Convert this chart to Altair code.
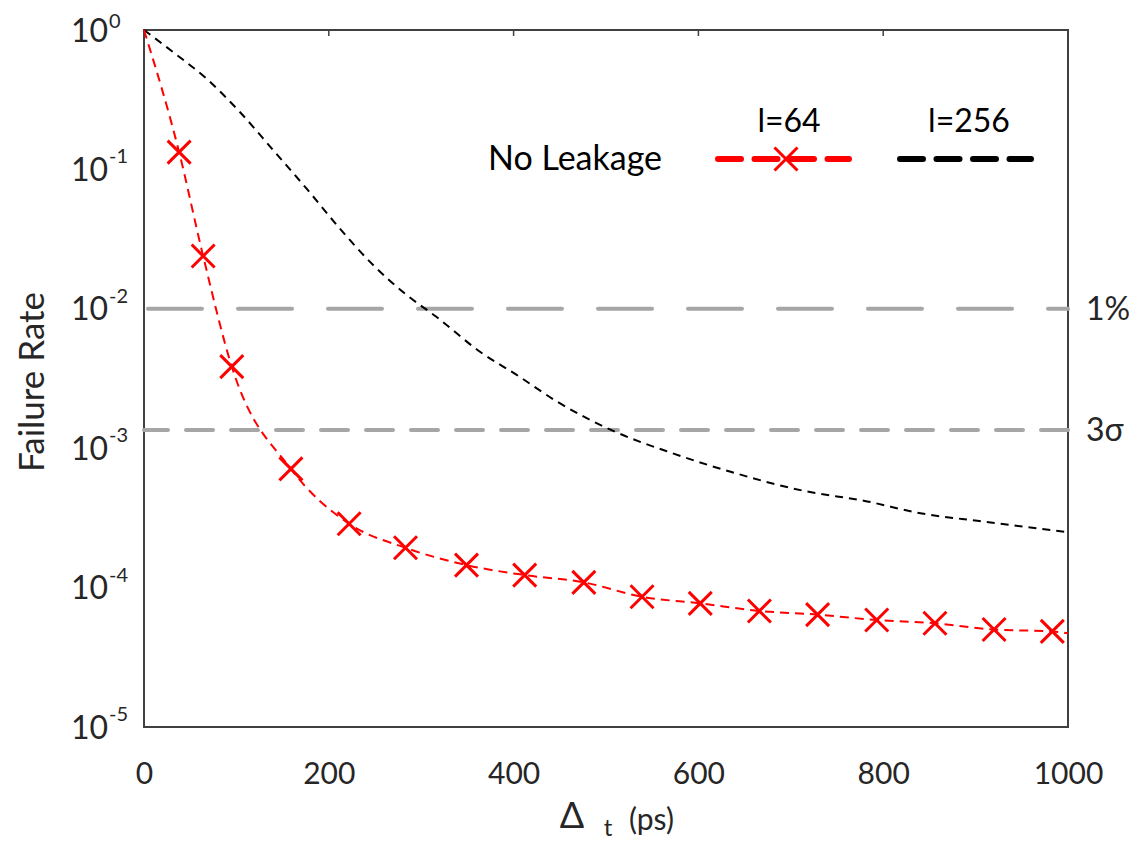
import altair as alt
import pandas as pd

# ---- data ----
t64 = [38, 64, 95, 159, 222, 283, 349, 412, 476, 539, 602, 666, 729, 793, 856, 920, 983]
fr64 = [0.133, 0.0239, 0.00385, 7.1e-4, 2.87e-4, 1.93e-4, 1.45e-4, 1.23e-4, 1.09e-4,
        8.6e-5, 7.7e-5, 6.8e-5, 6.4e-5, 5.85e-5, 5.55e-5, 5.0e-5, 4.85e-5]
line64_t = [0] + t64 + [1000]
line64_fr = [1.0] + fr64 + [4.7e-5]

t256 = [0, 32, 68, 104, 140, 176, 212, 248, 284, 316, 364, 405, 447, 509, 572, 634,
        717, 779, 842, 904, 1000]
fr256 = [1.0, 0.69, 0.445, 0.257, 0.137, 0.0727, 0.0376, 0.0206, 0.0126, 0.0088, 0.0049,
         0.0033, 0.00216, 0.00132, 9.2e-4, 6.8e-4, 4.9e-4, 4.2e-4, 3.4e-4, 3.0e-4, 2.5e-4]

ytick_vals = [1, 0.1, 0.01, 0.001, 0.0001, 0.00001]
ytick_exp = ["0", "-1", "-2", "-3", "-4", "-5"]
xticks = [0, 200, 400, 600, 800, 1000]
top_ticks = [200, 400, 600, 800]
ref_vals = [0.01, 0.00135]
ref_labels = ["1%", "3σ"]

FONT = "Lato"
TXT = "#262626"
W, H = 924, 697

df64_line = pd.DataFrame({"t": line64_t, "fr": line64_fr})
df64_pts = pd.DataFrame({"t": t64, "fr": fr64})
df256 = pd.DataFrame({"t": t256, "fr": fr256})
dfy = pd.DataFrame({"v": ytick_vals, "e": ytick_exp})
dfref = pd.DataFrame({"v": ref_vals, "lab": ref_labels})
dftop = pd.DataFrame({"t": top_ticks})
one = pd.DataFrame({"a": [0]})

xscale = alt.Scale(domain=[0, 1000], nice=False, zero=False)
yscale = alt.Scale(type="log", domain=[1e-5, 1], nice=False)
xaxis = alt.Axis(values=xticks, format="d", ticks=False, domain=False, grid=False,
                 labelFontSize=30, labelPadding=32, labelFont=FONT, labelColor=TXT,
                 title=None, labelFlush=False)
yaxis = alt.Axis(labels=False, ticks=False, domain=False, grid=False, title=None)


def X(f="t"):
    return alt.X(f"{f}:Q", scale=xscale, axis=xaxis)


def Y(f="fr"):
    return alt.Y(f"{f}:Q", scale=yscale, axis=yaxis)


ref1 = alt.Chart(dfref.iloc[[0]]).mark_rule(
    color="#a6a6a6", strokeWidth=4, strokeDash=[54, 36], strokeDashOffset=34, strokeCap="round"
).encode(y=Y("v"))
ref2 = alt.Chart(dfref.iloc[[1]]).mark_rule(
    color="#a6a6a6", strokeWidth=4, strokeDash=[27, 18], strokeCap="round"
).encode(y=Y("v"))

ref_txt = alt.Chart(dfref).mark_text(
    align="left", baseline="middle", font=FONT, fontSize=32, color=TXT, dy=1
).encode(y=Y("v"), x=alt.value(W + 18), text="lab:N")

black = alt.Chart(df256).mark_line(
    color="black", strokeWidth=2, strokeDash=[8, 6], interpolate="monotone"
).encode(x=X(), y=Y())

red = alt.Chart(df64_line).mark_line(
    color="#ff0000", strokeWidth=2, strokeDash=[9, 6], interpolate="monotone"
).encode(x=X(), y=Y())

CROSS = "M-1,-1L1,1M-1,1L1,-1"
pts = alt.Chart(df64_pts).mark_point(
    shape=CROSS, filled=False, strokeWidth=3, size=529, color="#ff0000", opacity=1
).encode(x=X(), y=Y())

top_tk = alt.Chart(dftop).mark_rule(color="#404040", strokeWidth=1.5).encode(
    x=X(), y=alt.value(0), y2=alt.value(6)
)

ylab10 = alt.Chart(dfy).mark_text(
    align="right", baseline="middle", font=FONT, fontSize=32, color=TXT, dy=1.5
).encode(y=Y("v"), x=alt.value(-36), text=alt.value("10"))
ylabexp_top = alt.Chart(dfy.iloc[[0]]).mark_text(
    align="left", baseline="middle", font=FONT, fontSize=20, color=TXT, dy=-8
).encode(y=Y("v"), x=alt.value(-35), text="e:N")
ylabexp = alt.Chart(dfy.iloc[1:]).mark_text(
    align="left", baseline="middle", font=FONT, fontSize=20, color=TXT, dy=-12
).encode(y=Y("v"), x=alt.value(-35), text="e:N")


def label(txt, x, y, size, align="left", angle=0, color=TXT):
    kw = dict(align=align, baseline="middle", font=FONT, fontSize=size, color=color, text=txt)
    if angle:
        kw["angle"] = angle
    return alt.Chart(one).mark_text(**kw).encode(x=alt.value(x), y=alt.value(y))


ytitle = label("Failure Rate", -111, 352, 35, align="center", angle=270)
xt_delta = label("Δ", 428, 787, 36, align="center")
xt_t = label("t", 464, 799, 24, align="center")
xt_ps = label("(ps)", 485, 791, 30)

leg_text = label("No Leakage", 344, 130, 34, color="black")
leg_64 = label("l=64", 645, 92, 32, align="center", color="black")
leg_256 = label("l=256", 825, 92, 32, align="center", color="black")

leg_red = alt.Chart(one).mark_rule(
    color="#ff0000", strokeWidth=6, strokeDash=[23, 13.5], strokeCap="round"
).encode(x=alt.value(574), x2=alt.value(705), y=alt.value(129))
leg_black = alt.Chart(one).mark_rule(
    color="black", strokeWidth=6, strokeDash=[23, 13.5], strokeCap="round"
).encode(x=alt.value(756), x2=alt.value(887), y=alt.value(129))
leg_mark = alt.Chart(one).mark_point(
    shape=CROSS, filled=False, strokeWidth=3, size=529, color="#ff0000", opacity=1
).encode(x=alt.value(642), y=alt.value(129))

chart = alt.layer(
    ref1, ref2, black, red, pts, top_tk, ref_txt, ylab10, ylabexp_top, ylabexp, ytitle,
    xt_delta, xt_t, xt_ps, leg_red, leg_black, leg_mark, leg_text, leg_64, leg_256
).properties(
    width=W, height=H,
    autosize=alt.AutoSizeParams(type="none"),
    padding={"left": 136, "top": 22, "right": 61, "bottom": 118},
    background="white",
).configure_view(stroke="#404040", strokeWidth=2)

chart.save("out.html", embed_options={"renderer": "svg", "actions": False})
